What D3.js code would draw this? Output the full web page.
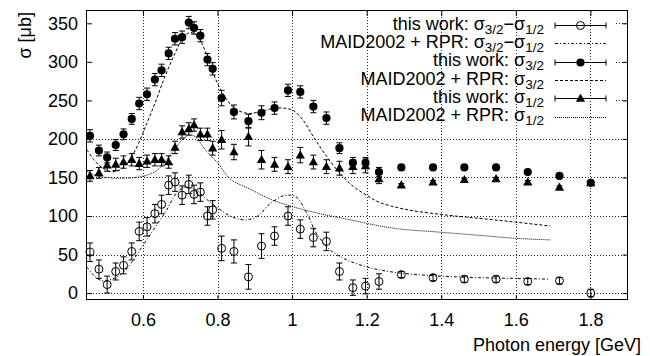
<!DOCTYPE html>
<html>
<head>
<meta charset="utf-8">
<script src="https://cdn.jsdelivr.net/npm/d3@7/dist/d3.min.js"></script>
<style>
body { margin: 0; background: #fff; }
text { font-family: "Liberation Sans", Arial, Helvetica, sans-serif; fill: #000; }
</style>
</head>
<body>
<div id="chart"></div>
<script>
// measured points (photon energy in GeV, cross sections in microbarn)
var energy = [0.458, 0.482, 0.504, 0.527, 0.548, 0.570, 0.590, 0.611, 0.632, 0.650, 0.669, 0.686, 0.705,
    0.723, 0.737, 0.754, 0.773, 0.787, 0.811, 0.844, 0.883, 0.918, 0.953, 0.989, 1.022, 1.057, 1.092,
    1.127, 1.163, 1.197, 1.233, 1.293, 1.378, 1.462, 1.547, 1.632, 1.717, 1.801];
var sigma32 = [204, 185, 176, 192, 206, 226, 246, 258, 277, 289, 311, 330, 332, 351, 344, 334, 303, 291, 253,
    235, 223, 234, 240, 263, 261, 242, 227, 188, 169, 169, 157, 163, 163, 163, 163, 157, 152, 143];
var sigma32Err = [8, 7, 7, 7, 7, 7, 8, 8, 8, 8, 8, 8, 8, 8, 8, 8, 8, 8, 10, 9, 9, 9, 8, 8, 8, 8, 8, 7, 7, 7, 6,
    2, 2, 2, 2, 2, 2, 2];
var sigma12 = [152, 156, 166, 167, 170, 173, 168, 171, 173, 173, 170, 189, 209, 213, 218, 206, 206, 188, 199,
    183, 203, 173, 167, 164, 179, 170, 164, 162, 164, 165, 148, 140, 144, 147, 148, 144, 137, 143];
var sigma12Err = [7, 7, 8, 8, 8, 8, 8, 8, 8, 8, 8, 8, 8, 8, 8, 8, 8, 9, 12, 10, 12, 12, 9, 9, 10, 9, 9, 9, 9, 9, 6,
    2, 2, 2, 2, 2, 2, 2];
var sigmaDiff = [53, 31, 11, 28, 36, 54, 80, 86, 103, 115, 140, 144, 127, 141, 128, 131, 100, 108, 58, 54, 21,
    61, 74, 100, 83, 72, 67, 28, 7, 9, 15, 24, 20, 18, 18, 15, 16, 0];
var sigmaDiffErr = [12, 12, 11, 11, 11, 11, 12, 12, 12, 12, 12, 12, 12, 12, 12, 12, 12, 12, 16, 15, 16, 16, 12,
    12, 12, 12, 12, 11, 10, 10, 10, 4, 4, 4, 4, 4, 4, 5];

// MAID2002 + RPR curves
var maid32E = [0.45, 0.47, 0.49, 0.51, 0.53, 0.55, 0.57, 0.588, 0.606, 0.632, 0.659, 0.686, 0.708, 0.726, 0.740,
    0.758, 0.780, 0.802, 0.825, 0.847, 0.883, 0.918, 0.953, 0.977, 1.003, 1.030, 1.057, 1.093, 1.129, 1.165,
    1.200, 1.233, 1.30, 1.40, 1.50, 1.60, 1.692];
var maid32 = [186, 172, 163, 158, 158, 164, 177, 194, 215, 246, 281, 311, 332, 338, 336, 324, 296, 270, 251,
    239, 233, 236, 240, 240, 237, 224, 203, 177, 155, 138, 127, 118, 109, 102, 97, 92, 87];
var maid12E = [0.45, 0.47, 0.50, 0.54, 0.58, 0.61, 0.64, 0.668, 0.69, 0.71, 0.725, 0.74, 0.767, 0.802, 0.834,
    0.887, 0.941, 0.995, 1.075, 1.156, 1.236, 1.29, 1.397, 1.5, 1.6, 1.692];
var maid12 = [158, 153, 150, 149, 150, 153, 160, 176, 190, 201, 205, 203, 186, 168, 148, 135, 122, 113, 103, 95,
    87, 83, 79, 75, 71, 69];
var maidDiffE = [0.45, 0.47, 0.49, 0.51, 0.53, 0.55, 0.57, 0.592, 0.628, 0.664, 0.69, 0.71, 0.727, 0.745, 0.77,
    0.802, 0.834, 0.87, 0.905, 0.941, 0.975, 0.995, 1.013, 1.04, 1.066, 1.102, 1.147, 1.2, 1.236, 1.29, 1.397,
    1.5, 1.6, 1.692];
var maidDiff = [34, 22, 16, 17, 21, 28, 40, 56, 82, 108, 130, 137, 137, 133, 122, 110, 100, 95, 99, 116, 126,
    127, 124, 103, 77, 56, 43, 34, 30, 26, 22, 20, 19, 18];

var xTicks = [0.6, 0.8, 1, 1.2, 1.4, 1.6, 1.8];
var xTickLabels = ["0.6", "0.8", "1", "1.2", "1.4", "1.6", "1.8"];
var yTicks = [0, 50, 100, 150, 200, 250, 300, 350];

var width = 650, height = 356;
var plot = { left: 87, right: 627.7, top: 11, bottom: 300 };

function crisp(v) {
    return Math.round(v) + 0.5;
}

var svg = d3.select("#chart").append("svg")
    .attr("width", width)
    .attr("height", height);

var x = d3.scaleLinear().domain([0.45, 1.9]).range([plot.left, plot.right]);
var y = d3.scaleLinear().domain([-9, 366]).range([plot.bottom, plot.top]);

// legend layout
var legendTextX = 544;
var legendSampleX1 = 555, legendSampleX2 = 606;
var legendRow0 = 25, legendRowStep = 18.35;
var legendRight = 616;
var legendBottom = legendRow0 + 5 * legendRowStep + 10;

// grid
var grid = svg.append("g").attr("stroke", "#222").attr("stroke-width", 1).attr("stroke-dasharray", "1,2");
xTicks.forEach(function (t) {
    grid.append("line")
        .attr("x1", crisp(x(t))).attr("x2", crisp(x(t)))
        .attr("y1", plot.top).attr("y2", plot.bottom);
});
yTicks.forEach(function (t) {
    var x1 = plot.left;
    // gnuplot leaves the grid out where it would cross the key
    if (y(t) < legendBottom) x1 = legendRight;
    grid.append("line")
        .attr("x1", x1).attr("x2", plot.right)
        .attr("y1", crisp(y(t))).attr("y2", crisp(y(t)));
});

// axes with inward ticks on all four sides
var xAxis = d3.axisBottom(x).tickValues(xTicks)
    .tickFormat(function (d, i) { return xTickLabels[i]; })
    .tickSizeInner(-5).tickSizeOuter(0).tickPadding(13);
var yAxis = d3.axisLeft(y).tickValues(yTicks).tickSizeInner(-5).tickSizeOuter(0).tickPadding(9);
var xAxisTop = d3.axisTop(x).tickValues(xTicks).tickFormat("").tickSizeInner(-5).tickSizeOuter(0);
var yAxisRight = d3.axisRight(y).tickValues(yTicks).tickFormat("").tickSizeInner(-5).tickSizeOuter(0);

function styleAxis(g) {
    g.select(".domain").remove();
    g.selectAll("text").style("font-size", "18px").attr("fill", "#000");
    g.selectAll("line").attr("stroke", "#000");
}

svg.append("g").attr("transform", "translate(0," + plot.bottom + ")").call(xAxis).call(styleAxis);
svg.append("g").attr("transform", "translate(" + plot.left + ",0)").call(yAxis).call(styleAxis);
svg.append("g").attr("transform", "translate(0," + plot.top + ")").call(xAxisTop).call(styleAxis);
svg.append("g").attr("transform", "translate(" + plot.right + ",0)").call(yAxisRight).call(styleAxis);

svg.append("rect")
    .attr("x", crisp(plot.left) - 1).attr("y", crisp(plot.top) - 1)
    .attr("width", Math.round(plot.right - plot.left)).attr("height", Math.round(plot.bottom - plot.top))
    .attr("fill", "none").attr("stroke", "#000").attr("stroke-width", 1);

// MAID curves
var styles = {
    dashed: "3,2",
    dashdot: "3,2,1,2",
    dotted: "1,1"
};

function drawCurve(xs, ys, dash) {
    var pts = xs.map(function (e, i) { return [x(e), y(ys[i])]; });
    svg.append("path")
        .attr("d", d3.line().curve(d3.curveCatmullRom.alpha(0.5))(pts))
        .attr("fill", "none")
        .attr("stroke", "#000")
        .attr("stroke-width", 1)
        .attr("stroke-dasharray", dash);
}

drawCurve(maidDiffE, maidDiff, styles.dashdot);
drawCurve(maid32E, maid32, styles.dashed);
drawCurve(maid12E, maid12, styles.dotted);

// data points with error bars
function marker(g, type, cx, cy) {
    if (type == "open") {
        g.append("circle").attr("cx", cx).attr("cy", cy).attr("r", 4)
            .attr("fill", "none").attr("stroke", "#000").attr("stroke-width", 1);
    } else if (type == "filled") {
        g.append("circle").attr("cx", cx).attr("cy", cy).attr("r", 4.1).attr("fill", "#000");
    } else {
        g.append("path")
            .attr("d", "M" + (cx - 4.6) + "," + (cy + 3.3) + "L" + (cx + 4.6) + "," + (cy + 3.3) + "L" + cx + "," + (cy - 4.9) + "Z")
            .attr("fill", "#000");
    }
}

function drawSeries(vals, errs, type) {
    var g = svg.append("g");
    vals.forEach(function (v, i) {
        var cx = x(energy[i]);
        var y1 = y(v - errs[i]), y2 = y(v + errs[i]);
        g.append("line").attr("x1", cx).attr("x2", cx).attr("y1", y1).attr("y2", y2)
            .attr("stroke", "#000").attr("stroke-width", 1);
        [y1, y2].forEach(function (yy) {
            g.append("line").attr("x1", cx - 3).attr("x2", cx + 3).attr("y1", yy).attr("y2", yy)
                .attr("stroke", "#000").attr("stroke-width", 1);
        });
        marker(g, type, cx, y(v));
    });
}

drawSeries(sigmaDiff, sigmaDiffErr, "open");
drawSeries(sigma32, sigma32Err, "filled");
drawSeries(sigma12, sigma12Err, "triangle");

// legend
var legendItems = [
    { label: "this work: ", terms: ["3/2", "1/2"], kind: "open" },
    { label: "MAID2002 + RPR: ", terms: ["3/2", "1/2"], kind: styles.dashdot },
    { label: "this work: ", terms: ["3/2"], kind: "filled" },
    { label: "MAID2002 + RPR: ", terms: ["3/2"], kind: styles.dashed },
    { label: "this work: ", terms: ["1/2"], kind: "triangle" },
    { label: "MAID2002 + RPR: ", terms: ["1/2"], kind: styles.dotted }
];

var legend = svg.append("g");
legendItems.forEach(function (item, i) {
    var ry = legendRow0 + i * legendRowStep;
    var t = legend.append("text")
        .attr("x", legendTextX).attr("y", ry + 4.5)
        .attr("text-anchor", "end")
        .style("font-size", "18px");
    t.append("tspan").text(item.label + "\u03c3");
    t.append("tspan").attr("dy", 4).style("font-size", "13.5px").text(item.terms[0]);
    if (item.terms.length > 1) {
        t.append("tspan").attr("dy", -4).text("\u2212\u03c3");
        t.append("tspan").attr("dy", 4).style("font-size", "13.5px").text(item.terms[1]);
    }

    var ly = crisp(ry);
    if (item.kind == "open" || item.kind == "filled" || item.kind == "triangle") {
        legend.append("line").attr("x1", legendSampleX1).attr("x2", legendSampleX2)
            .attr("y1", ly).attr("y2", ly).attr("stroke", "#000");
        [legendSampleX1, legendSampleX2].forEach(function (xx) {
            legend.append("line").attr("x1", xx).attr("x2", xx)
                .attr("y1", ly - 3).attr("y2", ly + 3).attr("stroke", "#000");
        });
        marker(legend, item.kind, (legendSampleX1 + legendSampleX2) / 2, ly);
    } else {
        legend.append("line").attr("x1", legendSampleX1).attr("x2", legendSampleX2)
            .attr("y1", ly).attr("y2", ly)
            .attr("stroke", "#000").attr("stroke-dasharray", item.kind);
    }
});

// axis titles
svg.append("text")
    .attr("x", 641).attr("y", 351)
    .attr("text-anchor", "end")
    .style("font-size", "18px")
    .text("Photon energy [GeV]");

svg.append("text")
    .attr("transform", "translate(31,12) rotate(-90)")
    .attr("text-anchor", "end")
    .style("font-size", "18px")
    .text("\u03c3 [\u03bcb]");
</script>
</body>
</html>
